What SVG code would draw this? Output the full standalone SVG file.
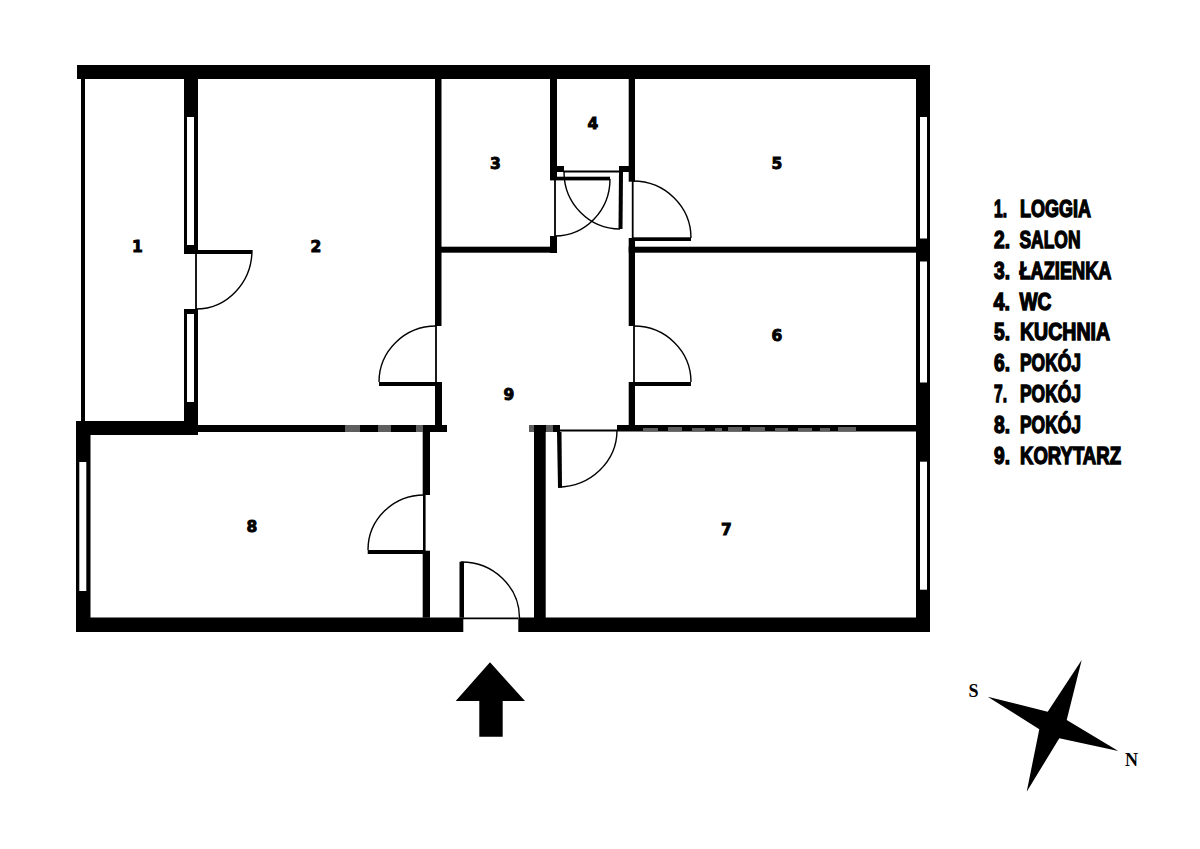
<svg xmlns="http://www.w3.org/2000/svg" width="1200" height="849" viewBox="0 0 1200 849">
<style>
.w{fill:#000}
.g{fill:#fff}
.m{fill:#5e5e5e}
.t{fill:none;stroke:#000;stroke-width:1.8}
.t2{fill:none;stroke:#000;stroke-width:2.6}
.a{fill:none;stroke:#000;stroke-width:1.4}
.n{font-family:"DejaVu Sans",sans-serif;font-weight:bold;font-size:15.500px;text-anchor:middle;fill:#000;stroke:#000;stroke-width:.9}
.l{font-family:"Liberation Sans",Arial,sans-serif;font-weight:bold;font-size:24.500px;fill:#000;stroke:#000;stroke-width:1.4}
.c{font-family:"Liberation Serif",serif;font-weight:bold;font-size:18px;text-anchor:middle;fill:#000}
</style>
<rect width="1200" height="849" fill="#fff"/>
<g id="walls">
<rect class="w" x="77" y="65" width="853" height="14"/>
<rect class="w" x="81" y="79" width="4" height="343"/>
<rect class="w" x="184" y="79" width="14" height="175"/>
<rect class="w" x="184" y="309" width="14" height="113"/>
<rect class="w" x="76" y="421" width="122" height="14"/>
<rect class="w" x="198" y="425" width="249" height="7"/>
<rect class="w" x="76" y="421" width="14.500" height="211"/>
<rect class="w" x="76" y="617.500" width="387.300" height="14.500"/>
<rect class="w" x="518.300" y="617.500" width="411.700" height="14.500"/>
<rect class="w" x="916" y="65" width="14" height="567"/>
<rect class="w" x="435" y="79" width="6.500" height="247"/>
<rect class="w" x="435" y="382" width="7" height="45"/>
<rect class="w" x="435" y="246.700" width="122" height="6"/>
<rect class="w" x="550" y="236" width="7" height="17"/>
<rect class="w" x="550" y="79" width="7" height="101"/>
<rect class="w" x="550" y="166" width="14" height="6"/>
<rect class="w" x="628.700" y="79" width="6.300" height="102.700"/>
<rect class="w" x="619" y="166" width="16" height="6"/>
<rect class="w" x="628.700" y="238" width="6.300" height="88"/>
<rect class="w" x="628.700" y="382" width="6.300" height="45"/>
<rect class="w" x="628.700" y="246.700" width="288" height="6"/>
<rect class="w" x="617" y="425" width="300" height="6.500"/>
<rect class="w" x="529" y="425" width="31" height="7"/>
<rect class="w" x="534" y="425" width="11.700" height="207"/>
<rect class="w" x="422.700" y="432" width="7.300" height="63"/>
<rect class="w" x="422.700" y="550.700" width="7.300" height="67"/>
</g>
<g id="windows">
<rect class="g" x="187" y="117" width="7" height="128"/>
<rect class="g" x="187" y="314" width="7" height="88"/>
<rect class="g" x="79.300" y="462" width="7" height="129"/>
<rect class="g" x="920" y="117" width="7" height="121.500"/>
<rect class="g" x="920" y="261.500" width="7" height="121"/>
<rect class="g" x="920" y="461.700" width="7" height="128"/>
</g>
<g id="doors">
<g id="door-loggia"><rect class="w" x="196" y="250" width="56" height="4"/><path class="t" d="M196 254V309"/><path class="a" d="M252 250A56 59 0 0 1 196 309"/></g>
<g id="door-salon"><rect class="w" x="379" y="382" width="57" height="4"/><path class="t" d="M436 326V384"/><path class="a" d="M379 382A57 56 0 0 1 436 326"/></g>
<g id="door-bath"><rect class="w" x="550" y="176.700" width="60" height="3.700"/><path class="t" d="M555 180V236"/><path class="a" d="M610 179A55 57 0 0 1 555 236"/></g>
<g id="door-wc"><path class="w" d="M619 172H623L622.500 229H618.500Z"/><path class="t" d="M564 171.500H619"/><path class="a" d="M564 172A56 57 0 0 0 620 229"/></g>
<g id="door-kitchen"><rect class="w" x="633" y="237.300" width="58" height="3.700"/><path class="t" d="M632.700 181V238"/><path class="a" d="M633 181A58 57 0 0 1 691 238"/></g>
<g id="door-6"><rect class="w" x="634" y="382" width="57" height="4"/><path class="t" d="M634 326V382"/><path class="a" d="M634 326A57 56 0 0 1 691 382"/></g>
<g id="door-7"><path class="w" d="M557 432H561.500L562 487.700H558Z"/><path class="t" d="M560 430.500H617"/><path class="a" d="M617 430A59 57 0 0 1 558 487"/></g>
<g id="door-8"><path class="w" d="M367.700 550H423V554H367.700Z"/><path class="t2" d="M424.300 495V551"/><path class="a" d="M368 550A56 55 0 0 1 424 495"/></g>
<g id="door-entrance"><rect class="w" x="459.500" y="561.700" width="4.500" height="56"/><path class="t" d="M463 618.300H518"/><path class="a" d="M461 562A58 56 0 0 1 519.500 618"/></g>
</g>
<g id="wall-fade">
<rect class="m" x="345" y="425" width="15" height="7"/>
<rect class="m" x="378" y="425" width="13" height="7"/>
<rect class="m" x="416" y="425" width="7" height="7"/>
<rect class="m" x="529" y="425" width="5" height="7"/>
<rect class="m" x="546" y="425" width="7" height="7"/>
<rect class="m" x="643" y="428" width="15" height="3.500"/>
<rect class="m" x="668" y="427" width="14" height="4.500"/>
<rect class="m" x="692" y="428" width="13" height="3.500"/>
<rect class="m" x="715" y="428" width="7" height="3.500"/>
<rect class="m" x="728" y="427" width="14" height="4.500"/>
<rect class="m" x="750" y="427" width="15" height="4.500"/>
<rect class="m" x="775" y="428" width="13" height="3.500"/>
<rect class="m" x="798" y="428" width="14" height="3.500"/>
<rect class="m" x="820" y="428" width="10" height="3.500"/>
<rect class="m" x="838" y="427" width="18" height="4.500"/>
</g>
<g id="arrow"><path class="w" d="M490 662.300L525 701H502.700V736.700H479.300V701H455.700Z"/></g>
<g id="compass"><path class="w" d="M1081.700 660L1066.700 720L1118.300 751L1059.300 738.300L1026.700 791.700L1039.300 729.300L987.700 696.700L1047.700 711.700Z"/>
<text class="c" x="973.500" y="697">S</text><text class="c" x="1131.500" y="765.500">N</text></g>
<g id="room-numbers">
<text class="n" x="137.500" y="252">1</text>
<text class="n" x="316" y="252">2</text>
<text class="n" x="495.500" y="169">3</text>
<text class="n" x="593" y="128.500">4</text>
<text class="n" x="777" y="169">5</text>
<text class="n" x="777" y="341">6</text>
<text class="n" x="726.500" y="534.500">7</text>
<text class="n" x="252" y="531.500">8</text>
<text class="n" x="509" y="400">9</text>
</g>
<g id="legend">
<text class="l" y="217"><tspan x="994" textLength="13" lengthAdjust="spacingAndGlyphs">1.</tspan> <tspan x="1020" textLength="71" lengthAdjust="spacingAndGlyphs">LOGGIA</tspan></text>
<text class="l" y="248"><tspan x="994" textLength="16" lengthAdjust="spacingAndGlyphs">2.</tspan> <tspan x="1019.500" textLength="61" lengthAdjust="spacingAndGlyphs">SALON</tspan></text>
<text class="l" y="279"><tspan x="994" textLength="16" lengthAdjust="spacingAndGlyphs">3.</tspan> <tspan x="1019.500" textLength="92" lengthAdjust="spacingAndGlyphs">ŁAZIENKA</tspan></text>
<text class="l" y="310"><tspan x="993.500" textLength="16.500" lengthAdjust="spacingAndGlyphs">4.</tspan> <tspan x="1019.500" textLength="32" lengthAdjust="spacingAndGlyphs">WC</tspan></text>
<text class="l" y="340"><tspan x="994" textLength="16" lengthAdjust="spacingAndGlyphs">5.</tspan> <tspan x="1020" textLength="90" lengthAdjust="spacingAndGlyphs">KUCHNIA</tspan></text>
<text class="l" y="371"><tspan x="994" textLength="16" lengthAdjust="spacingAndGlyphs">6.</tspan> <tspan x="1020" textLength="61" lengthAdjust="spacingAndGlyphs">POKÓJ</tspan></text>
<text class="l" y="401.500"><tspan x="994" textLength="13" lengthAdjust="spacingAndGlyphs">7.</tspan> <tspan x="1020" textLength="61" lengthAdjust="spacingAndGlyphs">POKÓJ</tspan></text>
<text class="l" y="432.500"><tspan x="994" textLength="16" lengthAdjust="spacingAndGlyphs">8.</tspan> <tspan x="1020" textLength="61" lengthAdjust="spacingAndGlyphs">POKÓJ</tspan></text>
<text class="l" y="463.500"><tspan x="994" textLength="16" lengthAdjust="spacingAndGlyphs">9.</tspan> <tspan x="1020" textLength="101" lengthAdjust="spacingAndGlyphs">KORYTARZ</tspan></text>
</g>
</svg>
